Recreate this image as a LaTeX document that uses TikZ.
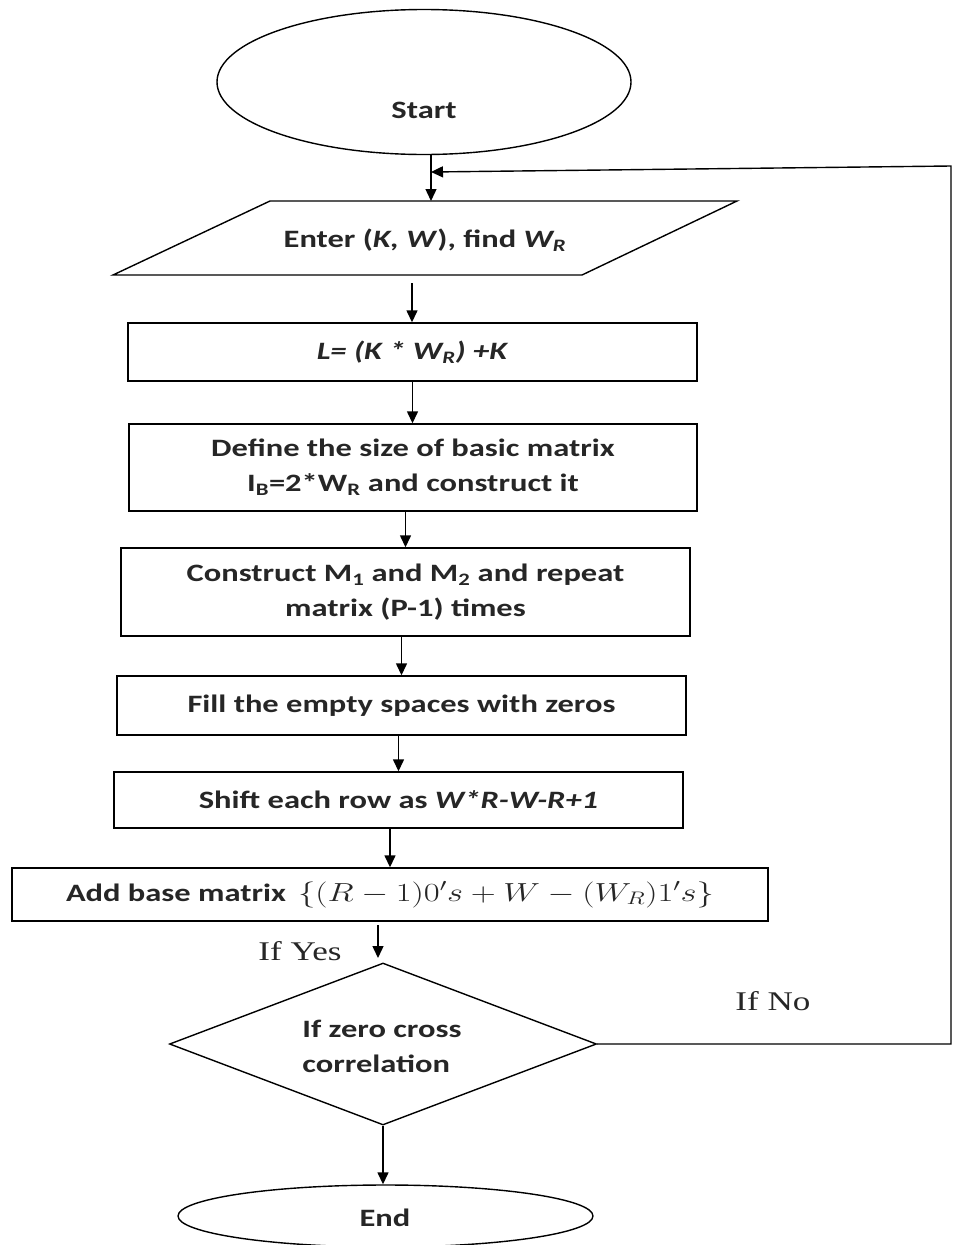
\documentclass[tikz,border=0pt]{standalone}
\usepackage{fontspec}
\usepackage{graphicx}
\setmainfont{Carlito}[FakeStretch=1.3]
\newfontfamily\tnr{Liberation Serif}[FakeStretch=1.3]
\usetikzlibrary{shapes.geometric,arrows.meta,calc}
\newcommand{\widemath}[1]{\scalebox{1.39}[1.05]{#1}}

\begin{document}
\begin{tikzpicture}[x=1pt,y=-1pt,
  line width=1.4pt,
  txt/.style={font=\bfseries\fontsize{25}{35}\selectfont, inner sep=0pt, align=center, text=black!85},
  procbox/.style={draw, rectangle, txt, inner sep=0pt},
  arr/.style={-{Triangle[length=12pt,width=11pt]}},
  yesno/.style={font=\tnr\fontsize{27}{30}\selectfont, inner sep=0pt, text=black!85}]
\useasboundingbox (0,0) rectangle (954,1245);

% terminals
\node[draw, ellipse, minimum width=414, minimum height=145, inner sep=0pt] (start) at (424,82) {};
\node[txt] (startlbl) at (424,110) {Start};

% input parallelogram
\coordinate (p1) at (270,201);
\coordinate (p2) at (737,201);
\coordinate (p3) at (582,275);
\coordinate (p4) at (113,275);
\draw (p1) -- (p2) -- (p3) -- (p4) -- cycle;
\node[txt] (enter) at (425,240) {Enter (\textit{K, W}), find \textit{W\textsubscript{R}}};
\coordinate (entertop) at (431,201);
\coordinate (enterbot) at (412,283);

% process steps
\node[procbox, minimum width=569, minimum height=58] (lbox) at (412.5,352) {\textit{L= (K * W\textsubscript{R}) +K}};
\node[procbox, minimum width=568, minimum height=87] (define) at (413,467.5)
  {Define the size of basic matrix\\I\textsubscript{B}=2*W\textsubscript{R} and construct it};
\node[procbox, minimum width=569, minimum height=88] (construct) at (405.5,592)
  {Construct M\textsubscript{1} and M\textsubscript{2} and repeat\\matrix (P-1) times};
\node[procbox, minimum width=569, minimum height=59] (fill) at (401.5,705.5)
  {Fill the empty spaces with zeros};
\node[procbox, minimum width=569, minimum height=56] (shift) at (398.5,800)
  {Shift each row as \textit{W*R-W-R+1}};
\node[procbox, minimum width=756, minimum height=53] (add) at (390,894.5)
  {Add base matrix\hspace{12pt}\widemath{$\{(R-1)0's+W-(W_R)1's\}$}};

% decision
\node[draw, diamond, minimum width=427, minimum height=162, inner sep=0pt] (dec) at (383,1044) {};
\node[txt, align=left] (declbl) at (382,1046) {If zero cross\\correlation};

\node[draw, ellipse, minimum width=415, minimum height=62, inner sep=0pt] (finish) at (385.5,1216) {};
\node[txt] (finishlbl) at (385,1218) {End};

% connectors
\coordinate (startbot) at (431,155);
\coordinate (merge) at (431,172);
\draw (startbot) -- (merge);
\draw[arr] (merge) -- (entertop);
\draw[arr] (enterbot) -- (enterbot |- lbox.north);
\draw[arr] (lbox.south) -- (lbox.south |- define.north);
\draw[arr] (define.south -| construct.north) -- (construct.north);
\draw[arr] (construct.south -| fill.north) -- (fill.north);
\draw[arr] (fill.south -| shift.north) -- (shift.north);
\draw[arr] (shift.south -| add.north) -- (add.north);
\coordinate (yestop) at (378,925);
\coordinate (yesbot) at (378,958);
\draw[arr] (yestop) -- (yesbot);
\draw[arr] (dec.south) -- (dec.south |- finish.north);

% loop back when the condition fails
\coordinate (loopbot) at (951,1044);
\coordinate (looptop) at (951,166);
\draw[arr] (dec.east) -- (loopbot) -- (looptop) -- (merge);

% branch labels
\node[yesno] (yes) at (300,951) {If Yes};
\node[yesno] (no) at (773,1001) {If No};
\end{tikzpicture}
\end{document}
